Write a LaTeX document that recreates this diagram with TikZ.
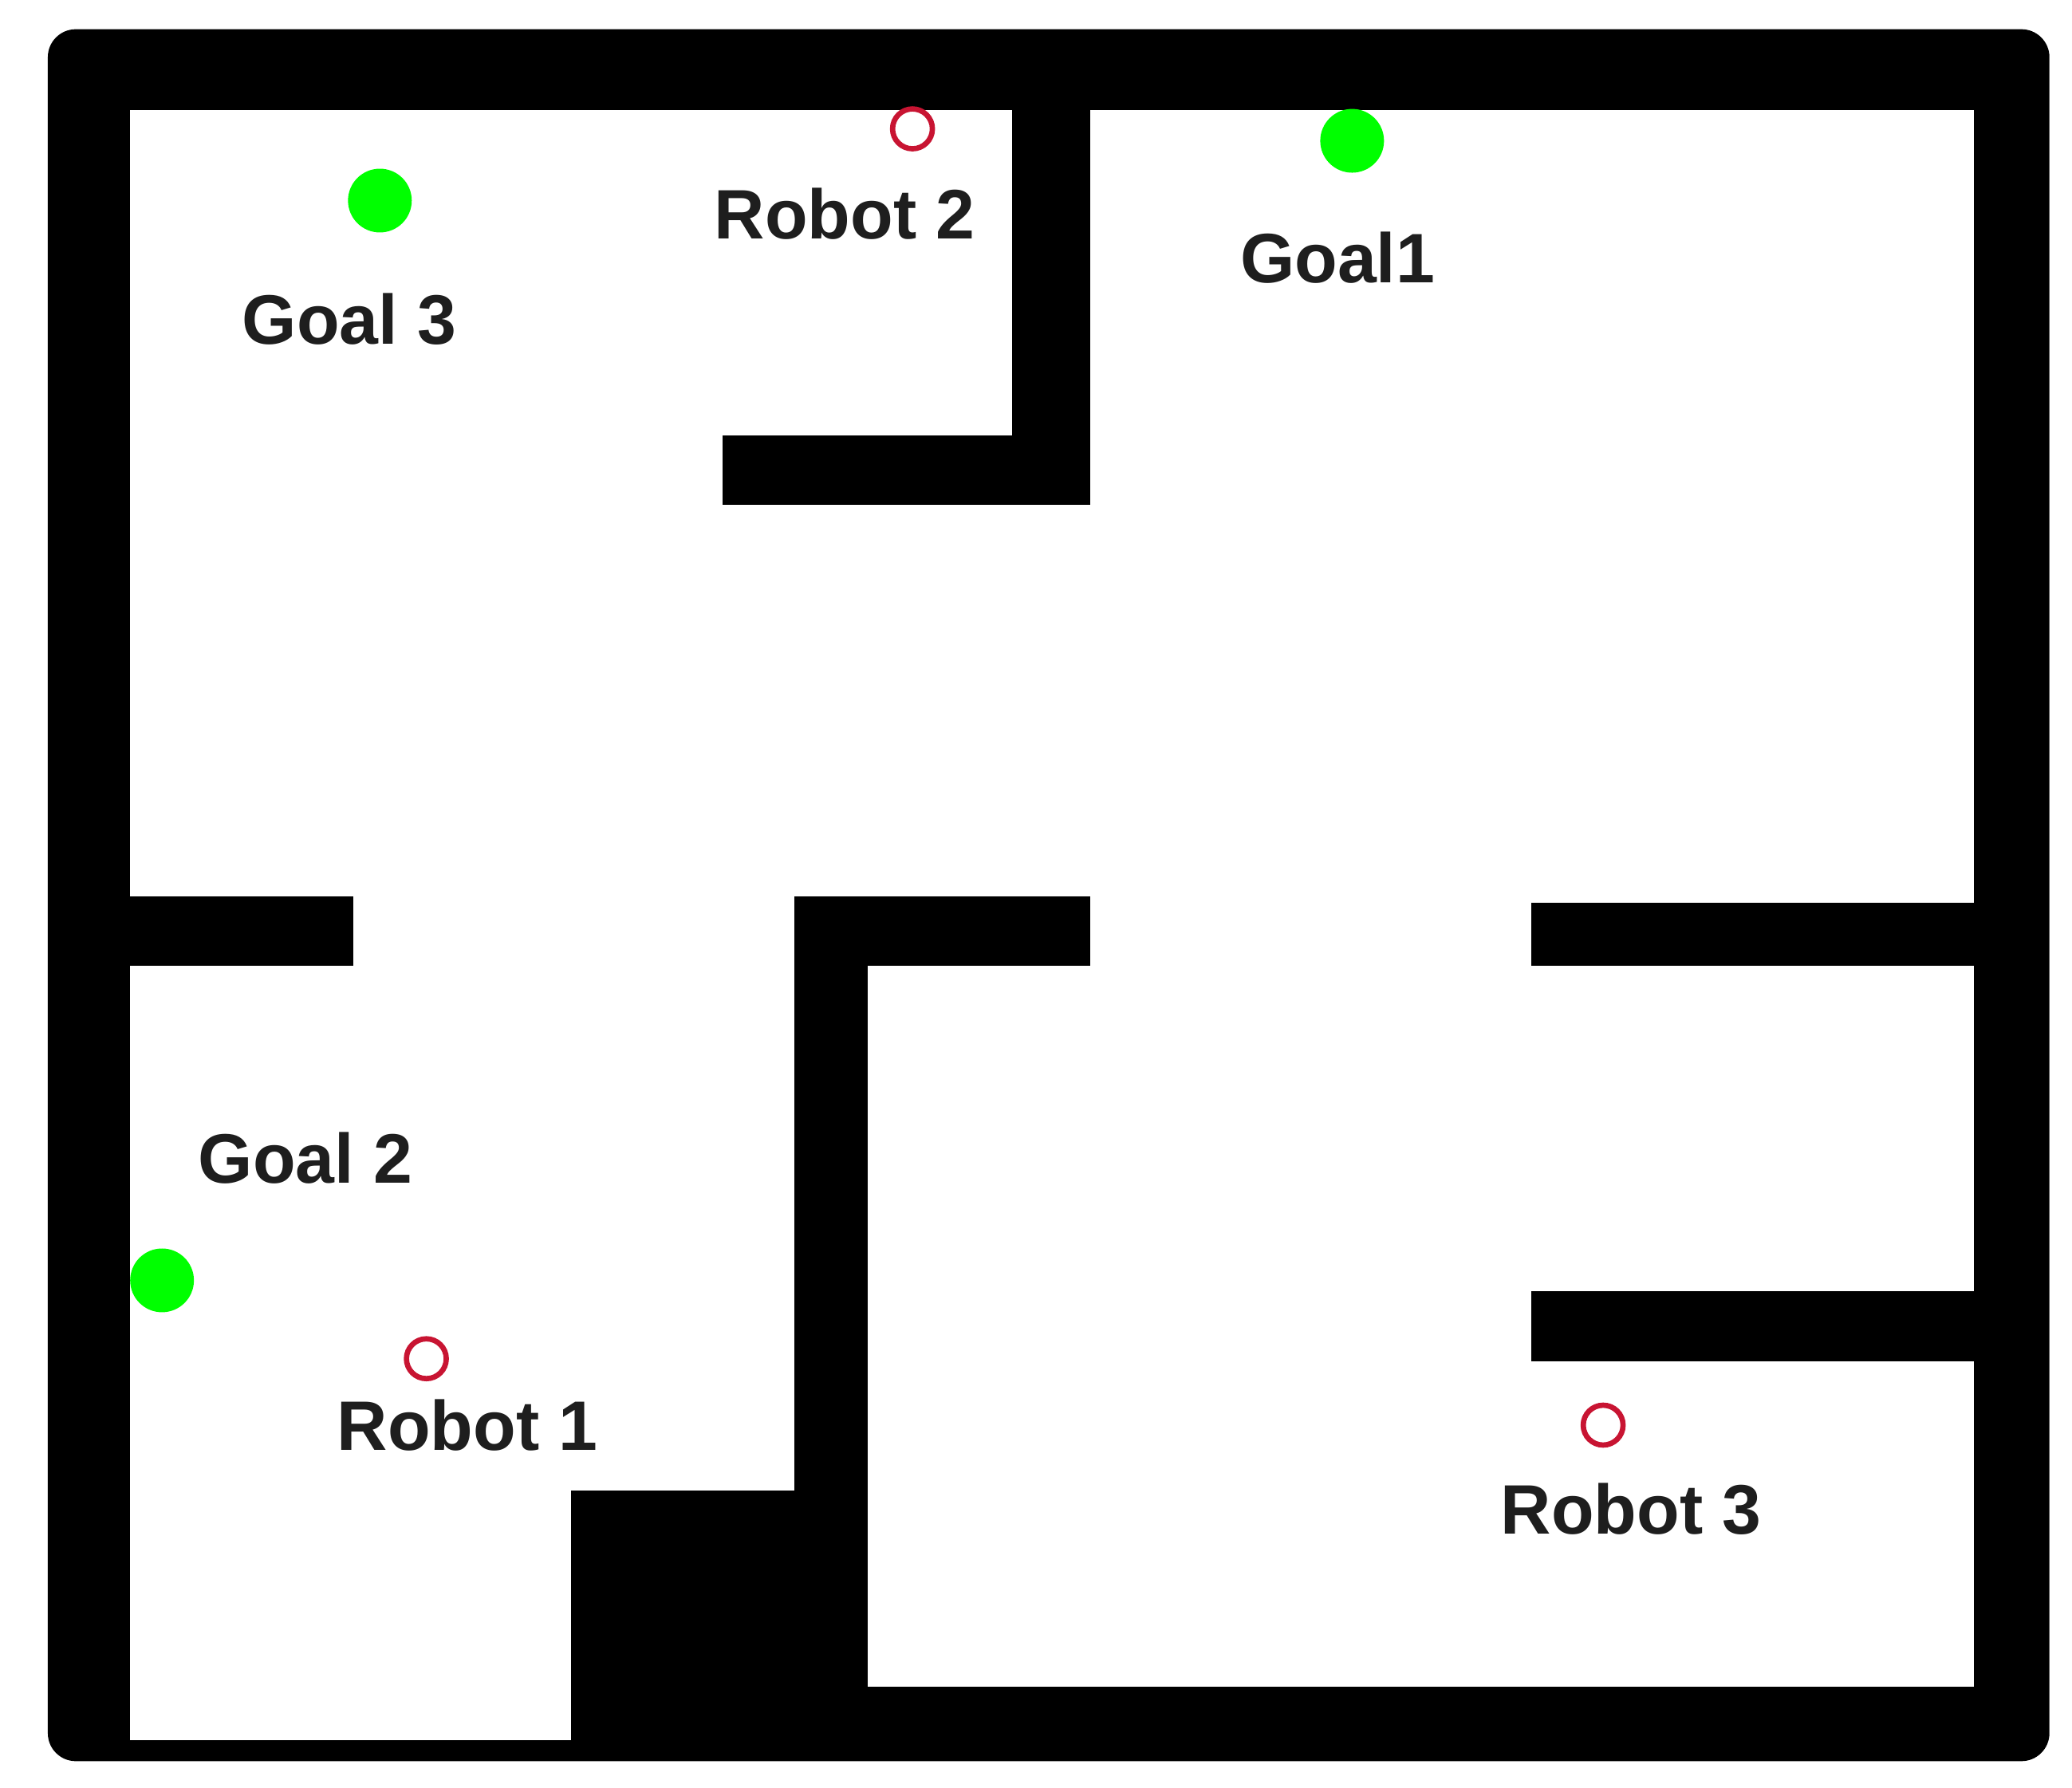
\documentclass[tikz,border=0pt]{standalone}
\usepackage{fontspec}
\setmainfont{Liberation Sans}
\begin{document}
\begin{tikzpicture}[x=0.1mm,y=-0.1mm,
  wall/.style={fill=black},
  goal/.style={circle,fill=green,minimum size=48*0.1mm,inner sep=0},
  robot/.style={circle,draw={rgb,255:red,200;green,20;blue,50},line width=4*0.1mm,minimum size=30*0.1mm,inner sep=0},
  lbl/.style={font=\fontsize{15}{15}\selectfont\bfseries,text={rgb,255:red,30;green,30;blue,30}}]
\useasboundingbox (0,0) rectangle (1560,1346);
\fill[black,rounded corners=6] (36,22) rectangle (1543,1326);
\fill[white] (98,83) rectangle (1486,1310);
\fill[wall] (762,83) rectangle (821,380);
\fill[wall] (544,328) rectangle (821,380);
\fill[wall] (98,675) rectangle (266,727);
\fill[wall] (598,675) rectangle (821,727);
\fill[wall] (598,675) rectangle (653,1310);
\fill[wall] (430,1122) rectangle (653,1310);
\fill[wall] (1153,680) rectangle (1486,727);
\fill[wall] (1153,972) rectangle (1486,1025);
\fill[wall] (653,1270) rectangle (1486,1310);
\node[goal] (g3) at (286,151) {};
\node[goal] (g1) at (1018,106) {};
\node[goal] (g2) at (122,964) {};
\node[robot] (r2) at (687,97) {};
\node[robot] (r1) at (321,1023) {};
\node[robot] (r3) at (1207,1073) {};
\node[lbl] (t2) at (636,161) {Robot 2};
\node[lbl] (tg1) at (1007,194) {Goal1};
\node[lbl] (tg3) at (263,240) {Goal 3};
\node[lbl] (tg2) at (230,872) {Goal 2};
\node[lbl] (t1) at (352,1073) {Robot 1};
\node[lbl] (t3) at (1228,1136) {Robot 3};
\end{tikzpicture}
\end{document}
